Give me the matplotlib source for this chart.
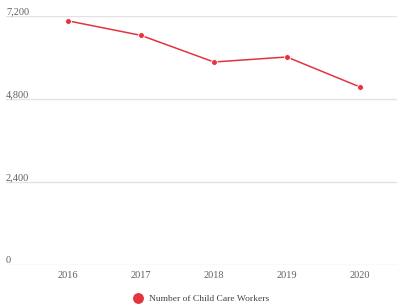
import matplotlib.pyplot as plt
from matplotlib.lines import Line2D

years = ['2016', '2017', '2018', '2019', '2020']
workers = [7060, 6640, 5870, 6015, 5150]
y_ticks = [0, 2400, 4800, 7200]
y_labels = ['0', '2,400', '4,800', '7,200']

red = '#e2343f'
grey = '#606060'

plt.rcParams['font.family'] = ['Liberation Serif', 'DejaVu Serif']

fig = plt.figure(figsize=(3.98, 3.06), dpi=100)
# axes spans the gridline extent (x 6..397 px, y 16..265 px)
ax = fig.add_axes([6 / 398, 41 / 306, 391 / 398, 249 / 306])

x = list(range(len(years)))
ax.plot(x, workers, color=red, lw=1.1, marker='o', ms=4.2,
        markeredgecolor='white', markeredgewidth=0.6, zorder=3)

ax.set_xlim(-0.85, 4.51)
ax.set_ylim(0, 7200)
for t, lab in zip(y_ticks, y_labels):
    ax.axhline(t, color='#e3e3e3', lw=1, zorder=1)
    ax.text(0, t, lab, transform=ax.get_yaxis_transform(), ha='left',
            va='bottom', fontsize=7.5, color=grey)

ax.set_yticks([])
ax.set_xticks(x)
ax.set_xticklabels(years, fontsize=7.5, color=grey)
ax.tick_params(axis='x', length=0, pad=4.5)
for s in ax.spines.values():
    s.set_visible(False)

handle = Line2D([], [], color=red, marker='o', ls='none', ms=6.8)
fig.legend([handle], ['Number of Child Care Workers'], loc='center',
           bbox_to_anchor=(0.5, 7 / 306), frameon=False, fontsize=6.8,
           handletextpad=0.1, labelcolor='#444444')

fig.savefig('out.png', dpi=100)
